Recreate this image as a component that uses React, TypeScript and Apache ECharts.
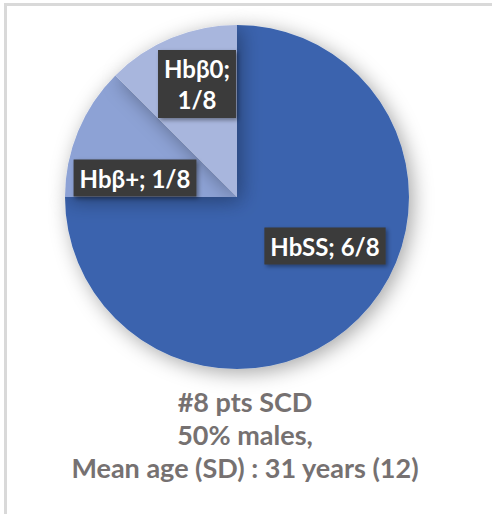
import React, { useEffect, useRef } from "react";
import * as echarts from "echarts";

const categories = ["HbSS", "Hbβ+", "Hbβ0"];
const values = [6, 1, 1];
const total = 8;
const sliceColors = ["#3B64AE", "#8DA2D5", "#A8B6DD"];
const labelBreak = ["; ", "; ", ";\n"];
const captionLines = ["#8 pts SCD", "50% males,", "Mean age (SD) : 31 years (12)"];

const labelCenters: [number, number][] = [
  [325, 246],
  [135, 178],
  [197, 84],
];

export default function App() {
  const ref = useRef<HTMLDivElement>(null);
  useEffect(() => {
    if (!ref.current) return;
    const chart = echarts.init(ref.current, undefined, { renderer: "svg" });
    chart.setOption({
      animation: false,
      backgroundColor: "#ffffff",
      graphic: [
        { type: "line", shape: { x1: 4, y1: 4.5, x2: 492, y2: 4.5 }, style: { stroke: "#D9D9D9", lineWidth: 3 } },
        { type: "line", shape: { x1: 5.5, y1: 3, x2: 5.5, y2: 514 }, style: { stroke: "#D9D9D9", lineWidth: 3 } },
        {
          type: "text",
          x: 245,
          y: 385,
          style: {
            text: captionLines.join("\n"),
            align: "center",
            verticalAlign: "top",
            fontFamily: "Lato",
            fontWeight: "bold",
            fontSize: 27,
            lineHeight: 33,
            fill: "#767171",
          },
        },
      ],
      series: [
        {
          type: "pie",
          center: [237, 197],
          radius: [0, 172],
          startAngle: 90,
          clockwise: true,
          silent: true,
          itemStyle: {
            shadowBlur: 20,
            shadowColor: "rgba(0,0,0,0.35)",
            shadowOffsetX: 4,
            shadowOffsetY: 4,
          },
          labelLine: { show: false },
          label: {
            show: true,
            position: "inside",
            formatter: (p: any) => `${p.name}${labelBreak[p.dataIndex]}${p.value}/${total}`,
            color: "#ffffff",
            fontFamily: "Lato",
            fontWeight: "bold",
            fontSize: 24,
            lineHeight: 31,
            align: "center",
            backgroundColor: "#3A3A3A",
            padding: [4, 6, 2, 6],
            shadowBlur: 4,
            shadowColor: "rgba(0,0,0,0.4)",
            shadowOffsetX: 2,
            shadowOffsetY: 2,
          },
          labelLayout: (params: any) => {
            const c = labelCenters[params.dataIndex];
            return { x: c[0], y: c[1], align: "center", verticalAlign: "middle" };
          },
          data: categories.map((name, i) => ({
            name,
            value: values[i],
            itemStyle: { color: sliceColors[i] },
          })),
        },
      ],
    });
    return () => chart.dispose();
  }, []);
  return (
    <div
      ref={ref}
      style={{ position: "fixed", left: 0, top: 0, width: 492, height: 514 }}
    />
  );
}
